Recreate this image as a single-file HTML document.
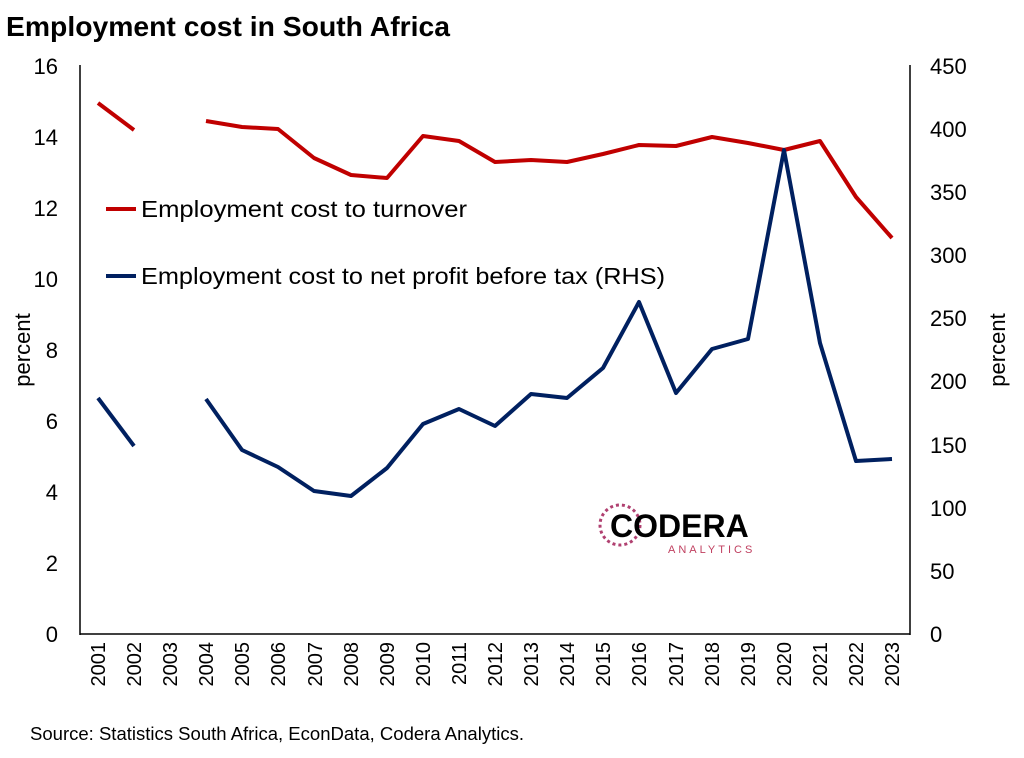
<!DOCTYPE html>
<html><head><meta charset="utf-8"><style>
body{margin:0;background:#fff;}
svg text{font-family:"Liberation Sans",sans-serif;}
</style></head><body>
<svg width="1024" height="753" viewBox="0 0 1024 753" xmlns="http://www.w3.org/2000/svg">
<rect width="1024" height="753" fill="#fff"/>
<text x="6" y="36" font-size="28" font-weight="bold" fill="#000" textLength="444" lengthAdjust="spacingAndGlyphs">Employment cost in South Africa</text>
<g stroke="#000" stroke-width="1.5">
<line x1="80" y1="65" x2="80" y2="635"/>
<line x1="910" y1="65" x2="910" y2="635"/>
<line x1="80" y1="634" x2="910" y2="634"/>
</g>
<g font-size="22" fill="#000" text-anchor="end">
<text x="58" y="642">0</text><text x="58" y="571">2</text><text x="58" y="500">4</text><text x="58" y="429">6</text>
<text x="58" y="358">8</text><text x="58" y="287">10</text><text x="58" y="216">12</text><text x="58" y="145">14</text><text x="58" y="74">16</text>
</g>
<g font-size="22" fill="#000" text-anchor="start">
<text x="930" y="642">0</text><text x="930" y="579">50</text><text x="930" y="516">100</text><text x="930" y="453">150</text><text x="930" y="389">200</text>
<text x="930" y="326">250</text><text x="930" y="263">300</text><text x="930" y="200">350</text><text x="930" y="137">400</text><text x="930" y="74">450</text>
</g>
<text transform="translate(30,350) rotate(-90)" font-size="22" text-anchor="middle">percent</text>
<text transform="translate(1005,350) rotate(-90)" font-size="22" text-anchor="middle">percent</text>
<g font-size="20" fill="#000" text-anchor="end">
<text transform="translate(105,642) rotate(-90)">2001</text>
<text transform="translate(141,642) rotate(-90)">2002</text>
<text transform="translate(177,642) rotate(-90)">2003</text>
<text transform="translate(213,642) rotate(-90)">2004</text>
<text transform="translate(249,642) rotate(-90)">2005</text>
<text transform="translate(285,642) rotate(-90)">2006</text>
<text transform="translate(322,642) rotate(-90)">2007</text>
<text transform="translate(358,642) rotate(-90)">2008</text>
<text transform="translate(394,642) rotate(-90)">2009</text>
<text transform="translate(430,642) rotate(-90)">2010</text>
<text transform="translate(466,642) rotate(-90)">2011</text>
<text transform="translate(502,642) rotate(-90)">2012</text>
<text transform="translate(538,642) rotate(-90)">2013</text>
<text transform="translate(574,642) rotate(-90)">2014</text>
<text transform="translate(610,642) rotate(-90)">2015</text>
<text transform="translate(646,642) rotate(-90)">2016</text>
<text transform="translate(683,642) rotate(-90)">2017</text>
<text transform="translate(719,642) rotate(-90)">2018</text>
<text transform="translate(755,642) rotate(-90)">2019</text>
<text transform="translate(791,642) rotate(-90)">2020</text>
<text transform="translate(827,642) rotate(-90)">2021</text>
<text transform="translate(863,642) rotate(-90)">2022</text>
<text transform="translate(899,642) rotate(-90)">2023</text>
</g>
<g fill="none" stroke-width="4" stroke-linejoin="round">
<polyline stroke="#c00000" points="98,103 134,130"/>
<polyline stroke="#c00000" points="206,121 242,127 278,129 314,158 351,175 387,178 423,136 459,141 495,162 531,160 567,162 603,154 639,145 676,146 712,137 748,143 784,150 820,141 856,197 892,238"/>
<polyline stroke="#002060" points="98,398 134,446"/>
<polyline stroke="#002060" points="206,399 242,450 278,467 314,491 351,496 387,468 423,424 459,409 495,426 531,394 567,398 603,368 639,302 676,393 712,349 748,339 784,150 820,343 856,461 892,459"/>
<line stroke="#c00000" x1="106" y1="209" x2="136" y2="209"/>
<line stroke="#002060" x1="106" y1="276" x2="136" y2="276"/>
</g>
<text x="141" y="217" font-size="23" textLength="326" lengthAdjust="spacingAndGlyphs">Employment cost to turnover</text>
<text x="141" y="284" font-size="23" textLength="524" lengthAdjust="spacingAndGlyphs">Employment cost to net profit before tax (RHS)</text>
<g>
<circle cx="620" cy="525" r="20" fill="none" stroke="#b04070" stroke-width="3" stroke-dasharray="3 3"/>
<text x="610" y="537" font-size="32" font-weight="bold" fill="#000">CODERA</text>
<text x="668" y="553" font-size="11" fill="#c04060" letter-spacing="3">ANALYTICS</text>
</g>
<text x="30" y="740" font-size="18" fill="#000" textLength="494" lengthAdjust="spacingAndGlyphs">Source: Statistics South Africa, EconData, Codera Analytics.</text>
</svg>
</body></html>
